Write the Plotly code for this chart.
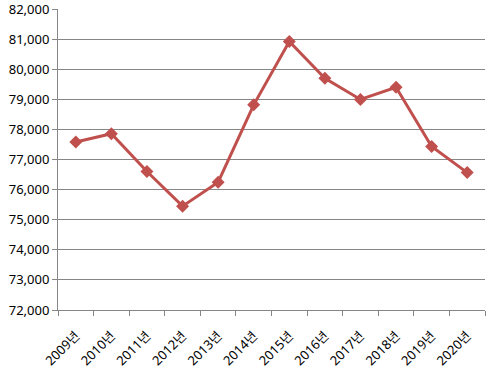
import plotly.graph_objects as go

years = ["2009년", "2010년", "2011년", "2012년", "2013년", "2014년",
         "2015년", "2016년", "2017년", "2018년", "2019년", "2020년"]
values = [77580, 77855, 76600, 75450, 76245, 78815,
          80920, 79700, 78995, 79400, 77430, 76565]
y_ticks = list(range(72000, 82001, 1000))
y_tick_text = [f"{v:,}" for v in y_ticks]

LINE = "#C0504D"
GRID = "#868686"
FONT = "Noto Sans, Noto Sans CJK KR, DejaVu Sans"

fig = go.Figure(go.Scatter(
    x=years, y=values, mode="lines+markers",
    line=dict(color=LINE, width=3),
    marker=dict(symbol="diamond", size=10, color=LINE),
    cliponaxis=False,
))

fig.update_layout(
    width=495, height=374,
    margin=dict(l=58, r=10, t=9, b=64),
    paper_bgcolor="white", plot_bgcolor="white",
    showlegend=False,
    font=dict(family=FONT, size=13, color="#000000"),
)
fig.update_xaxes(
    type="category", range=[-0.5, 11.5], automargin=False,
    tickson="boundaries", ticks="outside", ticklen=5, tickcolor=GRID,
    showline=True, linecolor=GRID, linewidth=1,
    showgrid=False, tickangle=-45, ticklabelstandoff=12,
    ticklabeloverflow="allow",
)
fig.update_yaxes(
    range=[72000, 82000], tickvals=y_ticks, ticktext=y_tick_text,
    automargin=False, ticklabeloverflow="allow",
    showgrid=True, gridcolor=GRID, gridwidth=1,
    showline=True, linecolor=GRID, linewidth=1,
    ticks="outside", ticklen=5, tickcolor=GRID,
    zeroline=False,
)

fig.write_html("out.html", config={"displayModeBar": False},
               post_script="document.body.style.margin='0';")
